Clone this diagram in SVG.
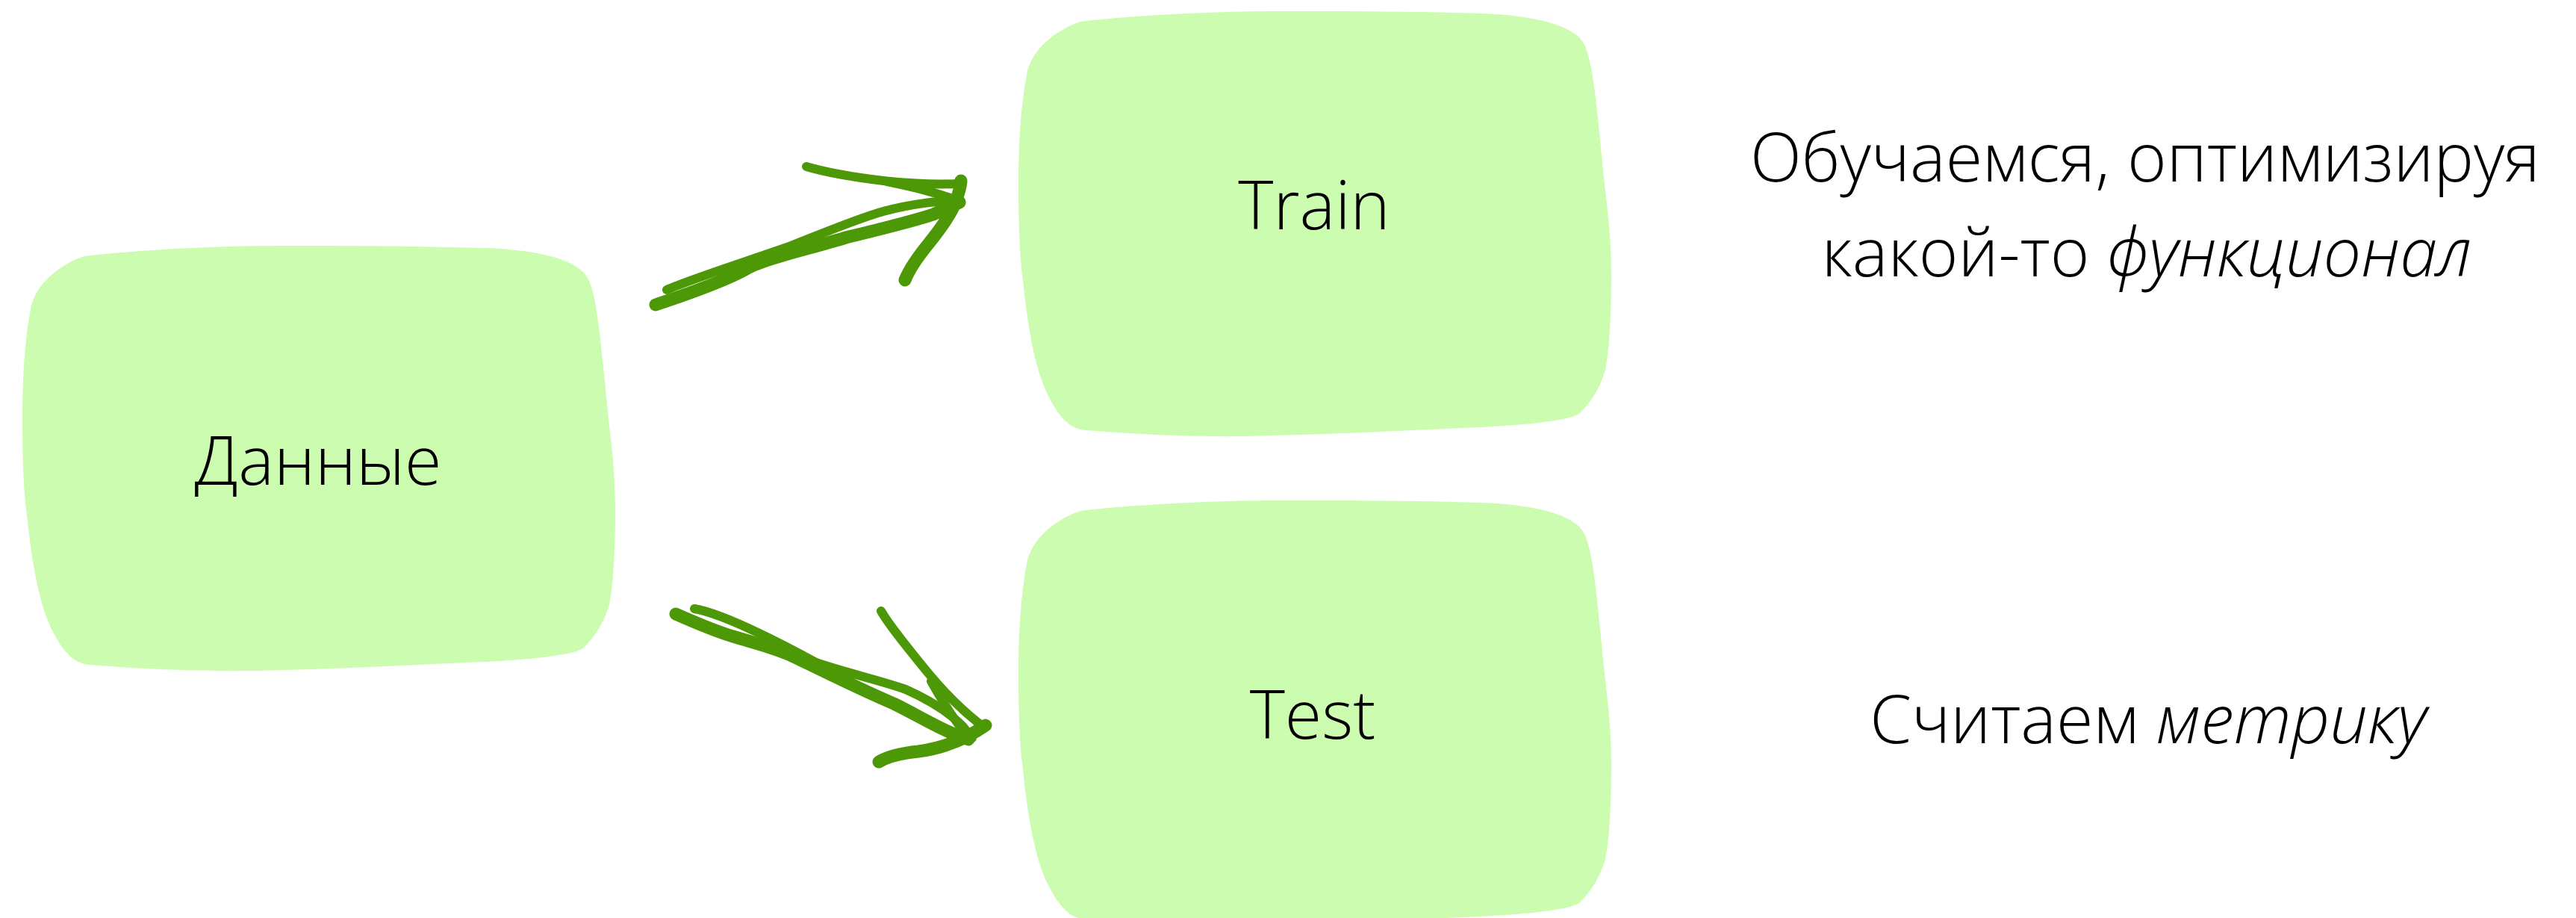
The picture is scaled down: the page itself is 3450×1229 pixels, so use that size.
<svg xmlns="http://www.w3.org/2000/svg" xmlns:xlink="http://www.w3.org/1999/xlink" width="3450" height="1229" viewBox="0 0 3450 1229">
  <style>
    .blob { fill: #ccfcaf; }
    .lbl { font-family: "Open Sans", "Liberation Sans", sans-serif; font-weight: 300; font-size: 90px; fill: #000; }
    .mid { text-anchor: middle; }
    .it { font-style: italic; }
    .stroke { fill: none; stroke: #4d9806; stroke-width: 17; stroke-linecap: round; stroke-linejoin: round; }
    .thin { stroke-width: 12; }
  </style>
  <defs>
    <!-- hand-drawn rounded card, local origin at its top-left -->
    <path id="blob" d="M83,14 C50,25 20,50 12,80 C4,120 0,170 0,230 C0,290 2,330 6,360 C12,420 22,480 40,515 C55,545 70,560 91,561 C150,566 230,570 304,569 C420,567 540,560 620,557 C690,553 735,548 751,539 C768,522 780,502 786,480 C792,450 794,400 794,353 C794,300 788,260 784,223 C778,160 772,100 767,76 C763,56 760,45 751,35 C730,15 680,5 620,3 C520,0 430,0 347,0 C250,0 140,7 83,14 Z"/>
  </defs>
  <rect width="3450" height="1229" fill="#fff"/>

  <g id="node-data">
    <use xlink:href="#blob" class="blob" x="30" y="329"/>
    <text class="lbl mid" x="426" y="649">Данные</text>
  </g>
  <g id="node-train">
    <use xlink:href="#blob" class="blob" x="1364" y="15"/>
    <text class="lbl mid" x="1760" y="307">Train</text>
  </g>
  <g id="node-test">
    <use xlink:href="#blob" class="blob" x="1364" y="670"/>
    <text class="lbl mid" x="1758" y="989">Test</text>
  </g>

  <g id="connectors">
    <!-- Данные to Train -->
    <path class="stroke thin" d="M893,388 C930,372 1000,350 1057,330 C1100,313 1150,292 1183,283 C1220,273 1260,268 1287,269"/>
    <path class="stroke" d="M878,408 C920,394 975,375 1003,358 C1030,345 1080,334 1133,318 C1170,309 1220,297 1250,287 L1285,271"/>
    <path class="stroke thin" d="M1080,223 C1110,232 1150,238 1183,242 C1220,246 1260,247 1285,246"/>
    <path class="stroke thin" d="M1188,243 C1228,251 1260,260 1287,270"/>
    <path class="stroke" d="M1212,375 C1218,360 1230,343 1243,327 C1255,312 1270,292 1277,277 C1283,262 1287,250 1287,242"/>
    <!-- Данные to Test -->
    <path class="stroke" d="M905,822 C930,833 960,846 985,853 C1015,862 1040,868 1065,880 C1100,897 1150,922 1197,942 C1230,958 1265,980 1297,990"/>
    <path class="stroke thin" d="M930,815 C960,820 1010,842 1093,887 C1130,900 1180,911 1213,923 C1240,935 1270,952 1290,973 L1302,988"/>
    <path class="stroke thin" d="M1180,818 C1190,836 1210,860 1230,885 C1250,910 1275,940 1313,970"/>
    <path class="stroke thin" d="M1247,912 C1260,935 1275,960 1293,982"/>
    <path class="stroke" d="M1177,1020 C1190,1012 1210,1008 1230,1006 C1260,1002 1290,992 1320,971"/>
  </g>

  <g id="notes">
    <text class="lbl mid" x="2873" y="243">Обучаемся, оптимизируя</text>
    <text class="lbl mid" x="2875" y="370">какой-то <tspan class="it">функционал</tspan></text>
    <text class="lbl mid" x="2877" y="995">Считаем <tspan class="it">метрику</tspan></text>
  </g>
</svg>
